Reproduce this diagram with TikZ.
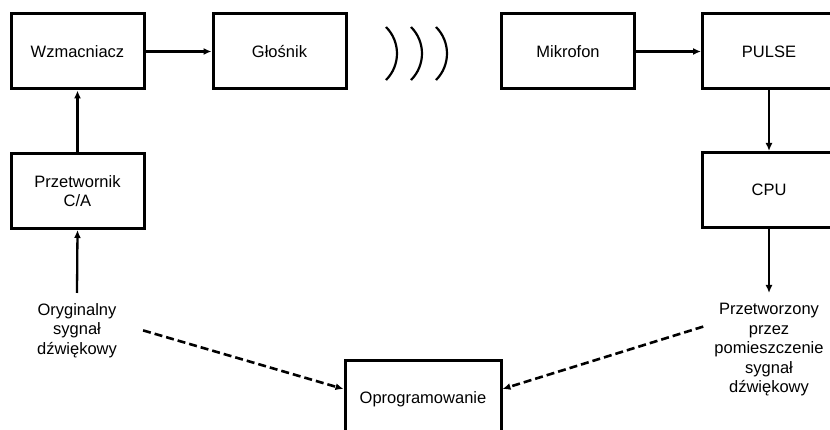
\documentclass[tikz,border=0pt]{standalone}
\usepackage{fontspec}
\setmainfont{Liberation Sans}
\usetikzlibrary{arrows.meta, positioning}

\begin{document}
\begin{tikzpicture}[x=1pt, y=1pt,
        block/.style={draw, line width=3pt, minimum width=133pt, minimum height=75pt,
            font=\fontsize{16.5}{19.5}\selectfont, align=center},
        label/.style={font=\fontsize{16.5}{19.5}\selectfont, align=center, anchor=north, inner ysep=10pt},
        link/.style={line width=2.3pt, -{Latex[length=8pt,width=7pt]}},
        soft link/.style={link, line width=2.6pt, dash pattern=on 8pt off 4pt}]
            \useasboundingbox (0,0) rectangle (830,430);

            % Top row
            \node[block] (wzm) at (77.5, 378.5) {Wzmacniacz};
            \node[block] (glos) at (279.5, 378.5) {Głośnik};
            \node[block] (mik) at (568, 378.5) {Mikrofon};
            \node[block] (pulse) at (769, 378.5) {PULSE};

            % Sound waves
            \foreach \x in {386, 411, 436}
                \draw[line width=2.2pt] (\x, 403) arc[start angle=45, end angle=-45, radius=37.5];

            % Left column
            \node[block] (dac) at (77.5, 239) {Przetwornik\\C/A};
            \node[label, inner xsep=26pt] (orig) at (77, 137) {Oryginalny\\sygnał\\dźwiękowy};

            % Right column
            \node[block] (cpu) at (769, 240) {CPU};
            \node[label, inner xsep=11pt] (proc) at (769, 137) {Przetworzony\\przez\\pomieszczenie\\sygnał\\dźwiękowy};

            % Software
            \node[block, minimum width=156pt, minimum height=76pt] (soft) at (423, 31) {Oprogramowanie};

            % Connections
            \draw[link] (orig.north) -- (dac.south);
            \draw[link] (dac.north) -- (wzm.south);
            \draw[link] (wzm.east) -- (glos.west);
            \draw[link] (mik.east) -- (pulse.west);
            \draw[link] (pulse.south) -- (cpu.north);
            \draw[link] (cpu.south) -- (proc.north);
            \draw[soft link] (orig.east) -- ([yshift=10pt]soft.west);
            \draw[soft link] ([yshift=23pt]proc.west) -- ([yshift=10pt]soft.east);
\end{tikzpicture}
\end{document}
